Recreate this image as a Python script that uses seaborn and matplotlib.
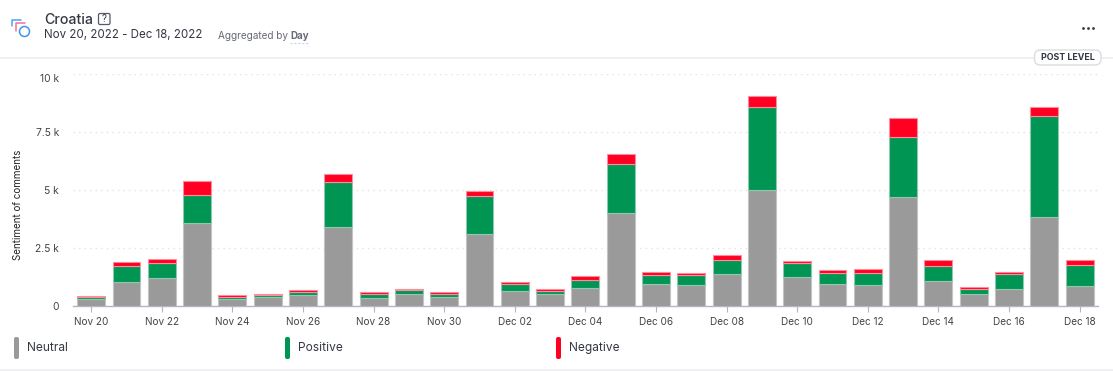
import seaborn as sns
import pandas as pd
import matplotlib.pyplot as plt
from matplotlib.patches import FancyBboxPatch, Circle, Rectangle

days = ['Nov 20', 'Nov 21', 'Nov 22', 'Nov 23', 'Nov 24', 'Nov 25', 'Nov 26', 'Nov 27', 'Nov 28', 'Nov 29', 'Nov 30',
        'Dec 01', 'Dec 02', 'Dec 03', 'Dec 04', 'Dec 05', 'Dec 06', 'Dec 07', 'Dec 08', 'Dec 09', 'Dec 10', 'Dec 11',
        'Dec 12', 'Dec 13', 'Dec 14', 'Dec 15', 'Dec 16', 'Dec 17', 'Dec 18']
neutral = [300, 1050, 1210, 3580, 300, 390, 470, 3390, 340, 530, 390, 3100, 650, 520, 760,
           4010, 950, 890, 1360, 5000, 1250, 930, 910, 4700, 1060, 520, 730, 3840, 850]
positive = [100, 690, 660, 1190, 100, 80, 150, 1940, 190, 160, 140, 1630, 310, 140, 380,
            2130, 390, 430, 640, 3560, 600, 490, 530, 2600, 680, 210, 660, 4360, 900]
negative = [30, 140, 140, 600, 60, 50, 70, 370, 60, 40, 60, 210, 90, 60, 150,
            410, 130, 100, 200, 490, 100, 120, 150, 820, 230, 90, 80, 390, 220]
y_ticks = [0, 2500, 5000, 7500, 10000]
y_labels = ['0', '2.5 k', '5 k', '7.5 k', '10 k']

GRAY = '#9a9a9a'
GREEN = '#019554'
RED = '#ff0022'
DARK = '#343844'
W, H = 1113, 371

sns.set_theme(style='white')
plt.rcParams['font.family'] = ['Inter', 'DejaVu Sans']

df = pd.DataFrame({'day': days, 'Neutral': neutral, 'Positive': positive, 'Negative': negative})

fig = plt.figure(figsize=(W / 100, H / 100), dpi=100, facecolor='white')

# overlay in pixel coordinates for the header and legend
bg = fig.add_axes([0, 0, 1, 1])
bg.set_xlim(0, W)
bg.set_ylim(H, 0)
bg.axis('off')

ax = fig.add_axes([73 / W, 1 - 306 / H, (1098 - 73) / W, (306 - 74) / H])
ax.patch.set_alpha(0)

sns.barplot(data=df, x='day', y='Neutral', color=GRAY, saturation=1, width=0.79, errorbar=None,
            edgecolor='#c4c4c4', linewidth=0.8, ax=ax, zorder=3)
sns.barplot(data=df, x='day', y='Positive', bottom=df['Neutral'], color=GREEN, saturation=1, width=0.79, errorbar=None,
            edgecolor='#8cc9ad', linewidth=0.8, ax=ax, zorder=3)
sns.barplot(data=df, x='day', y='Negative', bottom=df['Neutral'] + df['Positive'], color=RED, saturation=1, width=0.79,
            errorbar=None, edgecolor='#ff8c9c', linewidth=0.8, ax=ax, zorder=3)

ax.set_xlim(-0.516, 28.52)
ax.set_ylim(0, 10000)
ax.set_xlabel('')
ax.set_ylabel('')
ax.set_yticks(y_ticks)
ax.set_yticklabels(y_labels, fontsize=7.4, color='#444444')
ax.get_yticklabels()[-1].set_verticalalignment('top')  # top label sits below its gridline
ax.set_xticks(range(0, 29, 2))
ax.set_xticklabels(days[::2], fontsize=7.2, color='#444444')
ax.tick_params(axis='x', length=4, width=0.8, color='#b4b4c6', pad=4, bottom=True)
ax.tick_params(axis='y', length=0, pad=10)
ax.grid(axis='y', color='#e2e2e6', linestyle=(0, (1, 3)), linewidth=1)
ax.set_axisbelow(True)
sns.despine(ax=ax, left=True)
ax.spines['bottom'].set_color('#b4b4c6')
ax.spines['bottom'].set_linewidth(1)

# header
bg.text(44, 19.5, 'Croatia', fontsize=10.2, fontweight='medium', color=DARK, va='center')
bg.add_patch(FancyBboxPatch((98.5, 13.5), 11.5, 11, boxstyle='round,pad=0,rounding_size=1.5', fc='white', ec='#555a66', lw=0.9))
bg.text(104.2, 19, '?', fontsize=7, color=DARK, ha='center', va='center')
bg.text(44, 34.5, 'Nov 20, 2022 - Dec 18, 2022', fontsize=8.3, color=DARK, va='center')
bg.text(218, 36, 'Aggregated by ', fontsize=7.2, color='#666a74', va='center')
bg.text(290, 36, 'Day', fontsize=7, fontweight='bold', color='#666a74', va='center')
bg.plot([290, 308], [42.5, 42.5], color='#c4d6ea', lw=0.8, ls=(0, (2, 1.5)))

# logo
bg.plot([12, 12, 21], [26, 19.5, 19.5], color='#4da3f5', lw=1.1, solid_capstyle='round')
bg.plot([16, 16, 25], [31, 23, 23], color='#f0709a', lw=1.1, solid_capstyle='round')
bg.add_patch(Circle((24.5, 31.5), 5, fc='white', ec='#3d95ee', lw=1.1, zorder=3))

# menu dots
bg.scatter([1083, 1088, 1093], [27.5, 27.5, 27.5], s=4, color=DARK, linewidths=0)

# separators and pill
bg.plot([0, W], [57.5, 57.5], color='#ececee', lw=1.2)
bg.add_patch(FancyBboxPatch((1034.5, 50), 66.5, 15, boxstyle='round,pad=0,rounding_size=6', fc='white', ec='#dcdcdf', lw=1, zorder=3))
bg.text(1068, 57.5, 'POST LEVEL', fontsize=6.4, fontweight='bold', color=DARK, ha='center', va='center', zorder=4)
bg.add_patch(Rectangle((0, 369), W, 2, fc='#f0f0f2', ec='none'))

# legend
for name, color, sx in zip(['Neutral', 'Positive', 'Negative'], [GRAY, GREEN, RED], [14, 285, 556]):
    bg.add_patch(FancyBboxPatch((sx, 337), 5, 22, boxstyle='round,pad=0,rounding_size=2', fc=color, ec='none'))
    bg.text(sx + 13, 348, name, fontsize=8.6, color=DARK, va='center')

fig.text(18 / W, 1 - 205 / H, 'Sentiment of comments', rotation=90, fontsize=7.1, color='#222222', ha='center', va='center')

fig.savefig('out.png', dpi=100)
